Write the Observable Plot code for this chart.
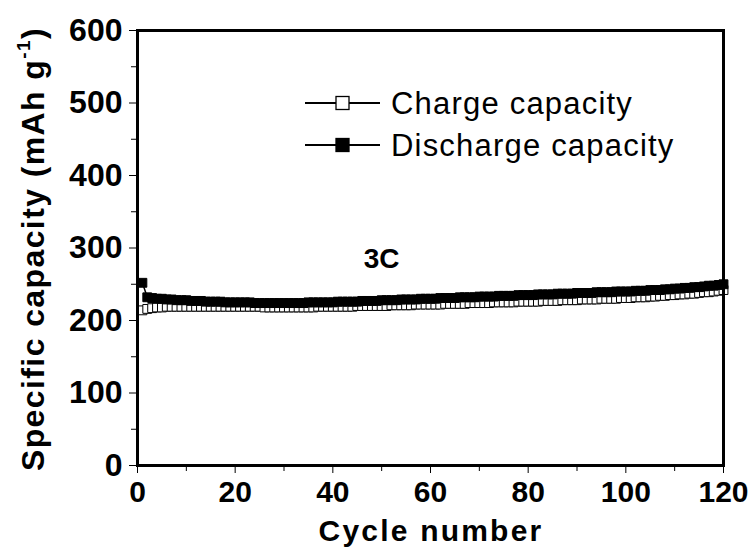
<!DOCTYPE html>
<html>
<head>
<meta charset="utf-8">
<script src="https://cdn.jsdelivr.net/npm/d3@7"></script>
<script src="https://cdn.jsdelivr.net/npm/@observablehq/plot@0.6"></script>
<style>
  html, body { margin: 0; padding: 0; background: #fff; }
  #wrap { position: relative; width: 756px; height: 550px; }
  #legend { position: absolute; left: 0; top: 0; pointer-events: none; }
</style>
</head>
<body>
<div id="wrap"></div>
<script>
// ---- data ----
const cycles = Array.from({length: 120}, (_, i) => i + 1);
const discharge = [
  252, 232, 231, 230, 230, 229, 229, 228, 228, 228,
  227, 227, 227, 226, 226, 226, 226, 225, 225, 225,
  225, 225, 225, 224, 224, 224, 224, 224, 224, 224,
  224, 224, 224, 224, 225, 225, 225, 225, 225, 225,
  226, 226, 226, 226, 226, 227, 227, 227, 227, 228,
  228, 228, 228, 229, 229, 229, 229, 230, 230, 230,
  230, 231, 231, 231, 231, 232, 232, 232, 232, 233,
  233, 233, 233, 234, 234, 234, 234, 235, 235, 235,
  235, 236, 236, 236, 236, 237, 237, 237, 237, 238,
  238, 238, 238, 239, 239, 239, 239, 240, 240, 240,
  240, 241, 241, 241, 242, 242, 242, 243, 243, 244,
  244, 245, 245, 246, 246, 247, 248, 248, 249, 250
];
const charge = [
  214, 216, 217, 218, 218, 219, 219, 219, 219, 219,
  219, 219, 219, 219, 219, 219, 219, 219, 219, 219,
  219, 219, 219, 219, 219, 218, 218, 218, 218, 218,
  218, 218, 218, 218, 218, 218, 219, 219, 219, 219,
  219, 219, 219, 219, 220, 220, 220, 220, 220, 220,
  220, 221, 221, 221, 221, 221, 222, 222, 222, 222,
  222, 222, 223, 223, 223, 223, 223, 224, 224, 224,
  224, 224, 225, 225, 225, 225, 225, 226, 226, 226,
  226, 226, 227, 227, 227, 227, 228, 228, 228, 228,
  229, 229, 229, 229, 230, 230, 230, 230, 231, 231,
  231, 232, 232, 232, 233, 233, 234, 234, 235, 235,
  236, 236, 237, 237, 238, 239, 239, 240, 241, 242
];
const seriesNames = ["Charge capacity", "Discharge capacity"];
const xMajorTicks = [0, 20, 40, 60, 80, 100, 120];
const xMinorTicks = [10, 30, 50, 70, 90, 110];
const yMajorTicks = [0, 100, 200, 300, 400, 500, 600];
const yMinorTicks = [50, 150, 250, 350, 450, 550];
const annotX = [50];
const annotY = [285];
const annotText = ["3C"];
const xTitle = "Cycle number";
const yTitleMain = "Specific capacity (mAh g";
const yTitleSup = "-1";

// ---- build ----
const chargeData = cycles.map((c, i) => ({cycle: c, value: charge[i]}));
const dischargeData = cycles.map((c, i) => ({cycle: c, value: discharge[i]}));
const FONT = "Arial, 'Liberation Sans', sans-serif";

const chart = Plot.plot({
  width: 756,
  height: 550,
  marginLeft: 137,
  marginRight: 33,
  marginTop: 30,
  marginBottom: 85,
  style: {fontFamily: FONT, background: "white", color: "black", overflow: "visible"},
  x: {domain: [0, 120]},
  y: {domain: [0, 600]},
  marks: [
    Plot.axisX({ticks: xMajorTicks, tickSize: 8, tickPadding: 7, tickWidth: 2.5, fontSize: 30, fontWeight: "bold", label: null, tickFormat: d => String(d)}),
    Plot.axisX({ticks: xMinorTicks, tickSize: 6, tickWidth: 2.5, text: null, label: null}),
    Plot.axisY({ticks: yMajorTicks, tickSize: 8, tickPadding: 7, tickWidth: 2.5, fontSize: 32, fontWeight: "bold", label: null, tickFormat: d => String(d)}),
    Plot.axisY({ticks: yMinorTicks, tickSize: 6, tickWidth: 2.5, text: null, label: null}),
    Plot.line(chargeData, {x: "cycle", y: "value", stroke: "black", strokeWidth: 1.5}),
    Plot.dot(chargeData, {x: "cycle", y: "value", symbol: "square", r: 5, fill: "white", stroke: "black", strokeWidth: 1}),
    Plot.line(dischargeData, {x: "cycle", y: "value", stroke: "black", strokeWidth: 1.5}),
    Plot.dot(dischargeData, {x: "cycle", y: "value", symbol: "square", r: 5, fill: "black", stroke: "black", strokeWidth: 1}),
    Plot.text(annotText.map((t, i) => ({x: annotX[i], y: annotY[i], t})), {x: "x", y: "y", text: "t", fontSize: 28, fontWeight: "bold", fill: "black"}),
    Plot.frame({stroke: "black", strokeWidth: 3})
  ]
});

const svg = d3.select(chart);
// x title
svg.append("text")
  .attr("x", 431).attr("y", 541)
  .attr("text-anchor", "middle")
  .attr("font-family", FONT)
  .attr("font-weight", "bold")
  .attr("font-size", 30)
  .attr("letter-spacing", "2.2px")
  .attr("fill", "black")
  .text(xTitle);
// y title with superscript
const yt = svg.append("text")
  .attr("transform", "translate(44,249) rotate(-90)")
  .attr("text-anchor", "middle")
  .attr("font-family", FONT)
  .attr("font-weight", "bold")
  .attr("font-size", 32)
  .attr("letter-spacing", "1.4px")
  .attr("fill", "black");
yt.append("tspan").text(yTitleMain);
yt.append("tspan").attr("font-size", 19).attr("dy", -14).text(yTitleSup);
yt.append("tspan").attr("dy", 14).text(")");

const wrap = document.getElementById("wrap");
wrap.appendChild(chart);

// legend overlay
const leg = d3.select(wrap).append("svg")
  .attr("id", "legend").attr("width", 756).attr("height", 550);
const legRows = [
  {name: seriesNames[0], fill: "white", y: 103},
  {name: seriesNames[1], fill: "black", y: 145}
];
for (const r of legRows) {
  leg.append("line").attr("x1", 305).attr("x2", 380).attr("y1", r.y).attr("y2", r.y)
    .attr("stroke", "black").attr("stroke-width", 1.8);
  leg.append("rect").attr("x", 336).attr("y", r.y - 6.5).attr("width", 13).attr("height", 13)
    .attr("fill", r.fill).attr("stroke", "black").attr("stroke-width", 1.3);
  leg.append("text").attr("x", 391).attr("y", r.y + 11)
    .attr("font-family", FONT).attr("font-size", 31).attr("letter-spacing", "1.2px")
    .attr("fill", "black").text(r.name);
}
</script>
</body>
</html>
